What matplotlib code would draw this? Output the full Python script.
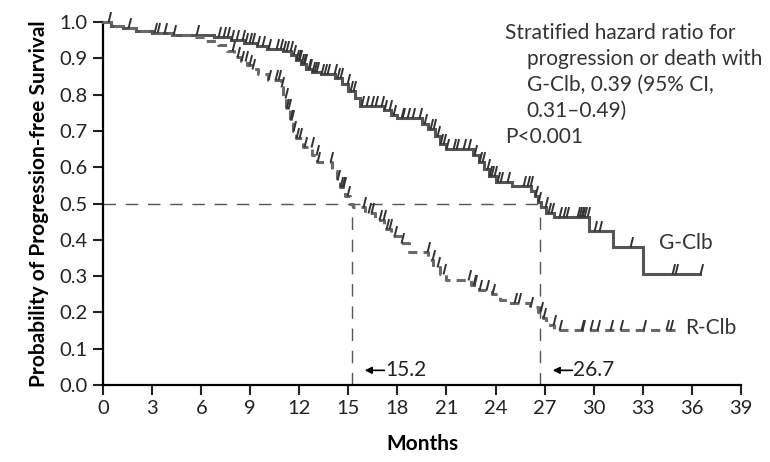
"""Kaplan-Meier curves of progression-free survival, G-Clb vs R-Clb."""

import numpy as np
import matplotlib.pyplot as plt
from matplotlib.path import Path

plt.rcParams['font.family'] = ['Lato', 'DejaVu Sans']

# G-Clb: step times (months) and survival after each step
gclb_t = [0, 0.5, 1.2, 2.0, 3.0, 4.2, 6.8, 7.8, 8.6, 9.4, 10.0, 11.0, 11.5, 11.8,
          12.1, 12.4, 12.8, 13.3, 14.2, 14.6, 15.0, 15.4, 15.7, 17.2, 17.6, 18.0,
          19.5, 19.9, 20.3, 20.6, 21.0, 22.6, 23.0, 23.3, 23.6, 24.0, 25.0, 26.2,
          26.4, 26.6, 26.8, 27.1, 27.6, 29.7, 31.2, 33.0]
gclb_s = [1.0, 0.99, 0.983, 0.975, 0.97, 0.964, 0.958, 0.95, 0.943, 0.935, 0.927,
          0.92, 0.91, 0.895, 0.885, 0.872, 0.862, 0.856, 0.845, 0.83, 0.81, 0.79,
          0.77, 0.758, 0.745, 0.736, 0.72, 0.705, 0.685, 0.665, 0.65, 0.635, 0.615,
          0.595, 0.575, 0.56, 0.547, 0.535, 0.52, 0.505, 0.49, 0.475, 0.462, 0.424,
          0.38, 0.306]
gclb_end = 36.5
gclb_cens = [0.3, 1.5, 3.1, 3.3, 3.7, 4.3, 5.7, 7.0, 7.3, 7.6, 7.8, 8.1, 8.5, 8.7,
             8.9, 9.1, 9.4, 9.7, 10.1, 10.6, 10.8, 11.0, 11.2, 11.4, 11.6, 11.8,
             11.9, 12.0, 12.1, 12.2, 12.3, 12.5, 12.6, 12.8, 12.9, 13.0, 13.3, 13.5,
             13.7, 14.1, 14.3, 14.5, 14.9, 15.1, 15.3, 15.8, 16.1, 16.4, 16.6, 17.0,
             17.2, 17.5, 17.7, 18.2, 18.3, 18.6, 18.9, 19.3, 19.6, 20.0, 20.2, 20.4,
             20.6, 20.8, 21.0, 21.4, 21.6, 22.0, 22.3, 22.7, 23.0, 23.2, 23.5, 23.6,
             23.7, 23.9, 24.1, 24.3, 24.7, 25.7, 25.9, 26.1, 26.4, 26.6, 27.0, 27.2,
             27.4, 27.9, 28.1, 28.3, 29.0, 29.1, 29.2, 29.3, 29.4, 29.6, 30.0, 30.3,
             32.2, 34.8, 35.0, 36.5]

# R-Clb
rclb_t = [0, 0.5, 1.2, 2.0, 3.0, 4.2, 5.5, 6.2, 7.0, 7.6, 8.0, 8.4, 8.8, 9.1, 9.5,
          10.1, 10.9, 11.0, 11.2, 11.4, 11.6, 11.8, 12.2, 12.8, 13.1, 14.0, 14.3,
          14.5, 14.8, 15.1, 15.3, 16.0, 16.6, 17.2, 17.6, 18.2, 18.7, 19.9, 20.2,
          20.6, 21.0, 22.5, 23.0, 23.8, 24.3, 24.7, 26.1, 26.6, 26.9, 27.1, 27.6]
rclb_s = [1.0, 0.99, 0.983, 0.975, 0.97, 0.964, 0.958, 0.948, 0.937, 0.92, 0.905,
          0.893, 0.882, 0.872, 0.858, 0.84, 0.82, 0.79, 0.76, 0.73, 0.70, 0.68,
          0.655, 0.635, 0.615, 0.59, 0.565, 0.545, 0.52, 0.50, 0.49, 0.475, 0.455,
          0.43, 0.41, 0.39, 0.366, 0.345, 0.325, 0.305, 0.29, 0.275, 0.262, 0.25,
          0.235, 0.226, 0.215, 0.20, 0.185, 0.165, 0.15]
rclb_end = 35.0
rclb_cens = [7.9, 8.2, 8.4, 8.7, 8.9, 9.1, 10.1, 10.5, 10.7, 10.9, 11.1, 11.2, 11.3,
             11.4, 11.5, 11.6, 11.8, 12.0, 12.3, 12.7, 13.0, 13.1, 13.9, 14.3, 14.5,
             14.6, 14.7, 14.9, 15.9, 16.2, 16.4, 16.9, 17.1, 17.3, 17.5, 17.8, 18.2,
             19.8, 20.1, 20.4, 20.8, 22.3, 22.6, 22.7, 23.0, 23.4, 23.8, 25.1, 25.4,
             26.1, 26.7, 26.9, 27.5, 27.9, 29.2, 29.3, 29.8, 30.2, 31.0, 31.6, 33.0,
             34.4, 34.7]

medians = [15.2, 26.7]
x_ticks = list(range(0, 40, 3))
y_ticks = [i / 10 for i in range(11)]

# slanted censor tick, drawn upward from the curve
cens_marker = Path([(0, 0), (0.25, 1)], [Path.MOVETO, Path.LINETO])


def plot_km(ax, t, s, end, cens, color, ls):
    tt = list(t) + [end]
    ss = list(s) + [s[-1]]
    ax.step(tt, ss, where='post', color=color, lw=2.2, ls=ls,
            solid_joinstyle='miter', zorder=3)
    idx = np.searchsorted(t, cens, side='right') - 1
    ax.plot(cens, np.array(s)[idx], ls='none', marker=cens_marker,
            markersize=15, markeredgewidth=1.4, color='#333333', zorder=4)


fig, ax = plt.subplots(figsize=(7.7, 4.62), dpi=100)
fig.subplots_adjust(left=0.134, right=0.962, bottom=0.167, top=0.952)

plot_km(ax, gclb_t, gclb_s, gclb_end, gclb_cens, '#555555', '-')
plot_km(ax, rclb_t, rclb_s, rclb_end, rclb_cens, '#6a6a6a', (0, (3, 2)))

# median reference lines
dash = (0, (9, 7))
ax.plot([0, medians[1]], [0.5, 0.5], color='#555555', lw=1.0, ls=dash, zorder=2)
for m in medians:
    ax.plot([m, m], [0, 0.5], color='#555555', lw=1.0, ls=dash, zorder=2)

for m, x0 in zip(medians, [16.0, 27.5]):
    ax.annotate('', xy=(x0, 0.04), xytext=(x0 + 1.2, 0.04),
                arrowprops=dict(arrowstyle='-|>', color='black', lw=1.2,
                                mutation_scale=10, shrinkA=0, shrinkB=0))
    ax.text(x0 + 1.25, 0.04, f'{m}', fontsize=15, va='center', ha='left',
            color='#222222')

ax.text(34.0, 0.39, 'G-Clb', fontsize=15, va='center', ha='left', color='#333333')
ax.text(35.6, 0.157, 'R-Clb', fontsize=15, va='center', ha='left', color='#333333')

hr_lines = ['Stratified hazard ratio for', 'progression or death with',
            'G-Clb, 0.39 (95% CI,', '0.31\u20130.49)', 'P<0.001']
hr_x = [24.6, 25.9, 25.9, 25.9, 24.6]
for i, (line, x) in enumerate(zip(hr_lines, hr_x)):
    ax.text(x, 0.969 - i * 0.0715, line, fontsize=15, va='center', ha='left',
            color='#333333')

ax.set_xlim(0, 39)
ax.set_ylim(0, 1.0)
ax.set_xticks(x_ticks)
ax.set_yticks(y_ticks)
ax.set_yticklabels([f'{v:.1f}' for v in y_ticks])
ax.tick_params(labelsize=14.5, width=1.5, length=7, colors='#222222', pad=4)
ax.spines[['top', 'right']].set_visible(False)
ax.spines[['left', 'bottom']].set_linewidth(1.6)
ax.set_xlabel('Months', fontsize=15, fontweight='bold', labelpad=12)
ax.set_ylabel('Probability of Progression-free Survival', fontsize=15,
              fontweight='bold', labelpad=8)
for sp in ax.spines.values():
    sp.set_clip_on(False)
for line in ax.lines:
    line.set_clip_on(False)

fig.savefig('out.png', dpi=100)
